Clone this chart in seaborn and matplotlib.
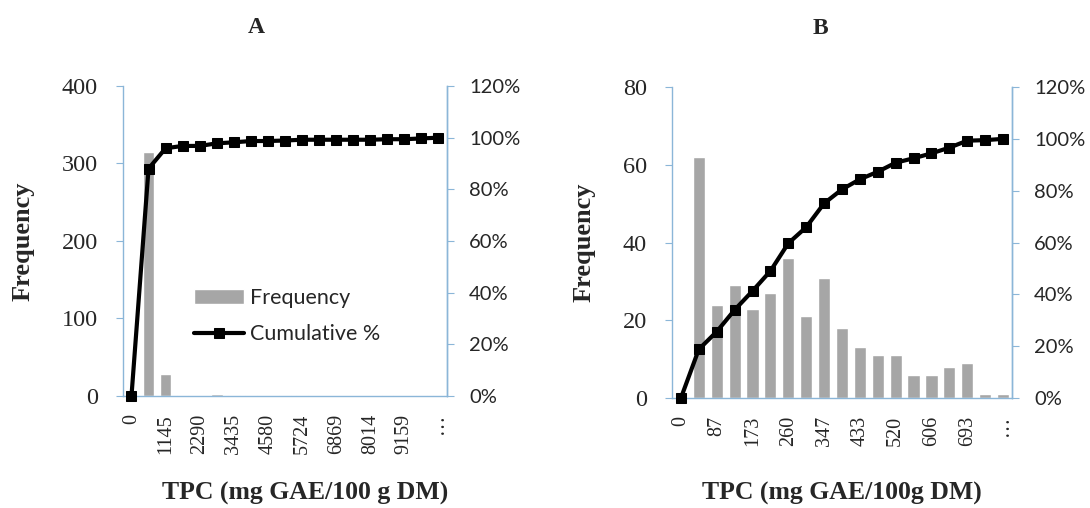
import numpy as np
import matplotlib
matplotlib.use('Agg')
import matplotlib.pyplot as plt
import seaborn as sns
from matplotlib.ticker import PercentFormatter, FixedLocator

# Panel A: TPC bins (mg GAE/100 g DM)
bins_a = ['0', '572', '1145', '1717', '2290', '2862', '3435', '4007', '4580', '5152',
          '5724', '6297', '6869', '7442', '8014', '8586', '9159', '9731', '…']
freq_a = [0, 315, 28, 1, 0, 2, 1, 1, 0, 1, 1, 0, 0, 0, 0, 1, 0, 1, 1]
cum_a = [0, 88, 95.9, 96.8, 96.8, 97.8, 98.2, 98.7, 98.7, 98.9, 99.2, 99.2,
         99.2, 99.2, 99.2, 99.4, 99.4, 99.7, 100]

# Panel B
bins_b = ['0', '43', '87', '130', '173', '217', '260', '303', '347', '390',
          '433', '477', '520', '563', '606', '650', '693', '736', '…']
freq_b = [0, 62, 24, 29, 23, 27, 36, 21, 31, 18, 13, 11, 11, 6, 6, 8, 9, 1, 1]
cum_b = [0, 18.8, 25.6, 34, 41.3, 49, 59.7, 65.9, 75.1, 80.5, 84.4, 87.3,
         90.8, 92.5, 94.4, 96.6, 99.3, 99.5, 100]

sns.set_style('white')
plt.rcParams['font.family'] = ['Liberation Serif', 'DejaVu Serif']

BLUE = '#8BB6D8'
GREY = '#A6A6A6'
SANS = ['Lato', 'DejaVu Sans']

fig = plt.figure(figsize=(10.9, 5.08), dpi=100)


def panel(rect, bins, freq, cum, ymax, ystep, title, tx, xlabel, xl, yl, legend=False):
    ax = fig.add_axes(rect)
    sns.barplot(x=bins, y=freq, color=GREY, width=0.68, saturation=1,
                label='Frequency', ax=ax)
    ax2 = ax.twinx()
    sns.lineplot(x=np.arange(len(cum)), y=cum, ax=ax2, color='black', lw=3,
                 marker='s', markersize=6.5, markeredgecolor='black',
                 label='Cumulative %', clip_on=False)
    if ax2.get_legend():
        ax2.get_legend().remove()
    if ax.get_legend():
        ax.get_legend().remove()

    n = len(bins)
    ax.set_xlim(-0.5, n - 0.5)
    ax.set_ylim(0, ymax)
    ax.set_yticks(np.arange(0, ymax + 1, ystep))
    ax2.set_ylim(0, 120)
    ax2.set_yticks(np.arange(0, 121, 20))
    ax2.yaxis.set_major_formatter(PercentFormatter(decimals=0))

    # labels every other bin, tick marks on bin boundaries
    ax.set_xticks(np.arange(n))
    ax.set_xticklabels([b if i % 2 == 0 else '' for i, b in enumerate(bins)],
                       rotation=90, fontsize=14.5)
    ax.xaxis.set_minor_locator(FixedLocator(np.arange(-0.5, n, 1)))
    ax.tick_params(axis='x', which='major', length=0, pad=13)
    ax.tick_params(axis='x', which='minor', length=5, color=BLUE, width=1)
    ax.tick_params(axis='y', length=5, color=BLUE, labelsize=17.5, pad=13)
    ax2.tick_params(axis='y', length=5, color=BLUE, pad=11)
    for t in ax2.get_yticklabels():
        t.set_family(SANS)
        t.set_fontsize(14.5)

    for a in (ax, ax2):
        a.spines['top'].set_visible(False)
        for s in ('left', 'right', 'bottom'):
            a.spines[s].set_color(BLUE)
            a.spines[s].set_linewidth(1)
        a.grid(False)
    ax2.spines['left'].set_visible(False)
    ax2.spines['bottom'].set_visible(False)

    ax.set_xlabel(xlabel, fontsize=18.5, fontweight='bold')
    ax.xaxis.set_label_coords(*xl)
    ax.set_ylabel('Frequency', fontsize=19, fontweight='bold')
    ax.yaxis.set_label_coords(*yl)
    ax2.set_ylabel('')
    ax.set_title(title, fontsize=17, fontweight='bold', pad=38, x=tx)

    if legend:
        h1, l1 = ax.get_legend_handles_labels()
        h2, l2 = ax2.get_legend_handles_labels()
        ax2.legend(h1 + h2, l1 + l2, loc='upper left', bbox_to_anchor=(0.16, 0.41),
                   frameon=False, prop={'family': SANS, 'size': 15.5},
                   handlelength=2.3, handletextpad=0.3, labelspacing=0.75)
    return ax, ax2


panel([0.1128, 0.2205, 0.2973, 0.6102], bins_a, freq_a, cum_a, 400, 100, 'A', 0.41,
      'TPC (mg GAE/100 g DM)', (0.562, -0.277), (-0.272, 0.5), legend=True)
panel([0.6165, 0.2165, 0.3119, 0.6122], bins_b, freq_b, cum_b, 80, 20, 'B', 0.438,
      'TPC (mg GAE/100g DM)', (0.5, -0.27), (-0.226, 0.5))

fig.savefig('out.png', dpi=100)
